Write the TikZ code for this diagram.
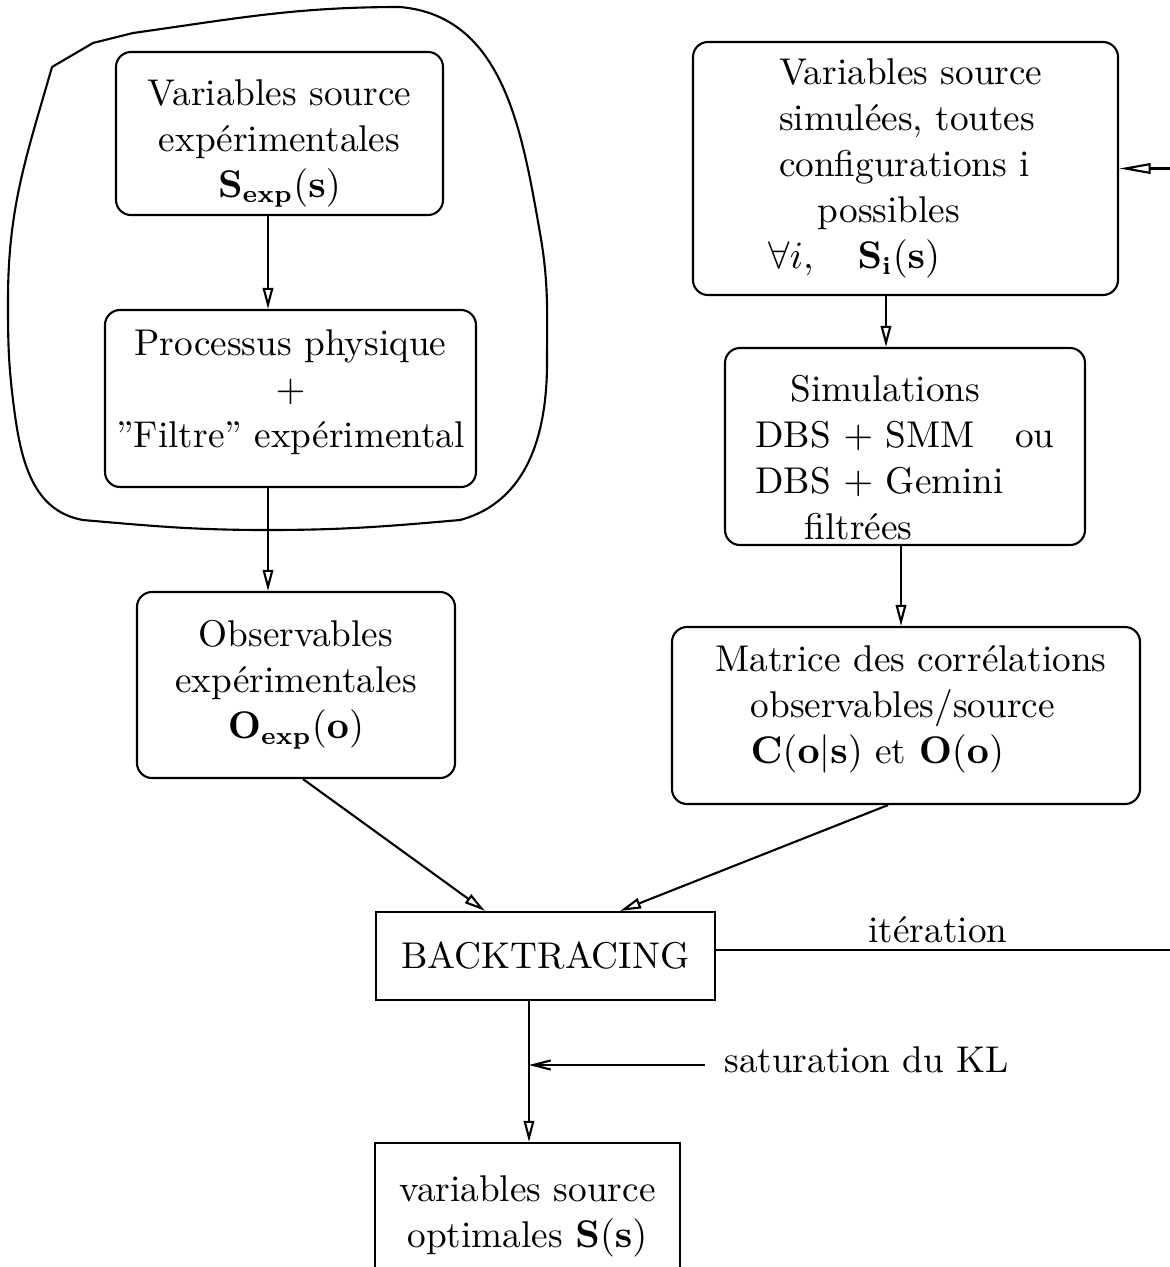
\documentclass[tikz,border=0pt]{standalone}
\usepackage{amsmath,amssymb}
\usetikzlibrary{arrows.meta,positioning}

\begin{document}
\begin{tikzpicture}[
            font=\fontsize{10.6}{13.1}\selectfont,
            boite/.style={draw, semithick, rounded corners=1.5mm, inner sep=0pt},
            boiteCarree/.style={draw, semithick, inner sep=0pt},
            fleche/.style={-{Triangle[open,length=6pt,width=3pt]}, semithick},
            flecheLongue/.style={-{Triangle[open,length=9pt,width=3pt]}, semithick},
            flecheBarbe/.style={-{Straight Barb[length=5pt,width=2.6pt]}, semithick}
        ]
\useasboundingbox (0,0) rectangle (11.7,-12.67);

% colonne experimentale
\node[boite, minimum width=3.27cm, minimum height=1.63cm] (sexp) at (2.795,-1.335) {};
\node[align=center] (sexpT) at ([yshift=-1mm]sexp.center)
    {Variables source\\ expérimentales\\ $\mathbf{S}_{\mathbf{exp}}(\mathbf{s})$};
\node[boite, minimum width=3.71cm, minimum height=1.77cm] (proc) at (2.905,-3.985) {};
\node[align=center] (procT) at ([yshift=0.6mm]proc.center)
    {Processus physique\\ $+$\\ "Filtre" expérimental};
\node[boite, minimum width=3.18cm, minimum height=1.86cm, align=center] (oexp) at (2.96,-6.85)
    {Observables\\ expérimentales\\ $\mathbf{O}_{\mathbf{exp}}(\mathbf{o})$};

% colonne simulee
\node[boite, minimum width=4.25cm, minimum height=2.53cm, align=left] (ssim) at (9.055,-1.685)
    {\hspace*{3pt}Variables source\\ \hspace*{3pt}simulées, toutes\\ \hspace*{3pt}configurations i\\ \hspace*{14pt}possibles\\ $\forall i,\quad \mathbf{S}_{\mathbf{i}}(\mathbf{s})$};
\node[boite, minimum width=3.6cm, minimum height=1.97cm] (simu) at (9.05,-4.465) {};
\node[align=left] (simuT) at ([yshift=-1.1mm]simu.center)
    {\hspace*{10pt}Simulations\\ DBS $+$ SMM\hspace{11.5pt}ou\\ DBS $+$ Gemini\\ \hspace*{14pt}filtrées};
\node[boite, minimum width=4.68cm, minimum height=1.77cm] (matc) at (9.06,-7.155) {};
\node[align=left] (matcT) at ([xshift=0.5mm,yshift=0.6mm]matc.center)
    {Matrice des corrélations\\ \hspace*{10pt}observables/source\\ \hspace*{10pt}$\mathbf{C}(\mathbf{o}|\mathbf{s})$ et $\mathbf{O}(\mathbf{o})$};

% backtracing
\node[boiteCarree, minimum width=3.39cm, minimum height=0.88cm] (back) at (5.455,-9.56) {BACKTRACING};
\node[boiteCarree, minimum width=3.05cm, minimum height=1.47cm, align=center] (sopt) at (5.275,-12.165)
    {variables source\\ optimales $\mathbf{S}(\mathbf{s})$};

% contour a main levee
\draw[semithick] (0.52,-0.67) -- (0.93,-0.43) -- (1.33,-0.33)
    to[out=8,in=180] (4.0,-0.07)
    to[out=-5,in=100] (5.40,-2.33)
    to[out=-80,in=90] (5.47,-3.63)
    to[out=-90,in=15] (4.60,-5.20)
    to[out=-175,in=0] (2.67,-5.30)
    to[out=180,in=-5] (0.83,-5.20)
    to[out=170,in=-83] (0.13,-4.00)
    to[out=97,in=-90] (0.08,-3.00)
    to[out=90,in=-106] (0.52,-0.67);

\draw[fleche] ([xshift=-1.15mm]sexp.south) -- ([xshift=-1.15mm]sexp.south |- proc.north);
\draw[fleche] ([xshift=-2.25mm]proc.south) -- ([xshift=-2.25mm]proc.south |- oexp.north);
\draw[fleche] ([xshift=-1.95mm]ssim.south) -- ([xshift=-1.95mm]ssim.south |- simu.north);
\draw[fleche] ([xshift=-0.4mm]simu.south) -- ([xshift=-0.4mm]simu.south |- matc.north);
\draw[fleche] ([xshift=0.7mm]oexp.south) -- ([xshift=-6.05mm]back.north);
\draw[fleche] ([xshift=-1.8mm]matc.south) -- ([xshift=7.45mm]back.north);
\coordinate (tronc) at ([xshift=-1.65mm]back.south);
\draw[fleche] (tronc) -- (tronc |- sopt.north);

% saturation
\node[anchor=west] (satu) at (7.12,-10.6) {saturation du KL};
\coordinate (satDebut) at ([xshift=-0.7mm,yshift=-0.5mm]satu.west);
\draw[flecheBarbe] (satDebut) -- (satDebut -| tronc);

% boucle d'iteration
\coordinate (boucle) at (12.0,0);
\node (iter) at (9.38,-9.3) {itération};
\draw[flecheLongue] ([yshift=0.6mm]back.east) -- ([yshift=0.6mm]back.east -| boucle) |- (ssim.east);
        \end{tikzpicture}
\end{document}
